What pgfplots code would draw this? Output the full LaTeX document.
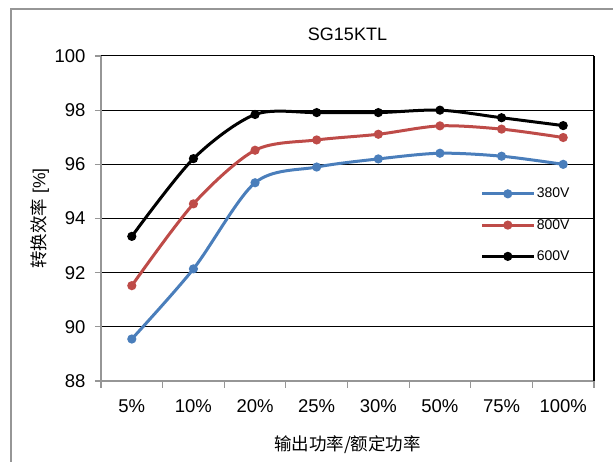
\documentclass[border=0pt]{standalone}
\usepackage{pgfplots}
\pgfplotsset{compat=1.18}
\usepackage{fontspec}
\setmainfont{Liberation Sans}
\newfontfamily\cjk{Noto Sans CJK SC}
\definecolor{sblue}{RGB}{74,126,187}
\definecolor{sred}{RGB}{190,75,72}
\definecolor{fgray}{RGB}{150,150,150}
\begin{document}
\begin{tikzpicture}[x=1pt,y=1pt]
\useasboundingbox (0,0) rectangle (613,462);
\draw[fgray, line width=1.5pt] (11,-2) -- (11,453) -- (615,453);
\begin{axis}[
  at={(101pt,81pt)}, anchor=south west,
  scale only axis, width=493pt, height=325pt,
  xmin=0.5, xmax=8.5, ymin=88, ymax=100,
  xtick={1,...,8},
  xticklabels={5\%,10\%,20\%,25\%,30\%,50\%,75\%,100\%},
  minor xtick={0.5,1.5,...,8.5},
  ytick={90,92,...,100},
  extra y ticks={88},
  extra tick style={grid=none},
  ymajorgrids,
  major grid style={black, line width=1pt},
  axis x line*=bottom, axis y line*=left,
  axis line style={draw=fgray, line width=1.5pt, -},
  tick align=outside,
  major tick length=6pt, minor tick length=7pt,
  tick style={fgray, line width=1.2pt},
  major x tick style={draw=none},
  ticklabel style={font=\fontsize{18.5}{20}\selectfont},
  /pgf/number format/assume math mode=true,
  xticklabel style={yshift=-9pt},
  yticklabel style={xshift=-6pt},
  title={SG15KTL},
  title style={at={(axis description cs:0.5,1.049)}, anchor=center, font=\fontsize{18}{20}\selectfont},
  xlabel={\cjk 输出功率/额定功率},
  xlabel style={at={(axis description cs:0.5,-0.197)}, anchor=center, font=\fontsize{17.5}{19}\selectfont},
  ylabel={{\cjk 转换效率} [\%]},
  ylabel style={at={(axis description cs:-0.124,0.5)}, anchor=center, rotate=0, font=\fontsize{17.5}{19}\selectfont},
  legend style={draw=none, fill=none, at={(rel axis cs:0.77,0.60)}, anchor=north west,
    font=\fontsize{14}{16}\selectfont, row sep=16pt, inner sep=0pt},
  legend cell align=left,
  legend image code/.code={\draw[mark repeat=2, mark phase=2] plot coordinates {(0pt,0pt) (25.5pt,0pt) (51pt,0pt)};},
  every axis plot/.append style={line width=3pt, smooth, tension=0.5, mark=*, mark size=3pt},
  clip=false,
]
\addplot[sblue, mark options={fill=sblue}] coordinates {
 (1,89.55) (2,92.14) (3,95.32) (4,95.9) (5,96.2) (6,96.41) (7,96.3) (8,96.0)};
\addlegendentry{380V}
\addplot[sred, mark options={fill=sred}] coordinates {
 (1,91.52) (2,94.54) (3,96.52) (4,96.9) (5,97.11) (6,97.42) (7,97.3) (8,96.99)};
\addlegendentry{800V}
\addplot[black, mark options={fill=black}] coordinates {
 (1,93.34) (2,96.21) (3,97.84) (4,97.91) (5,97.91) (6,98.0) (7,97.72) (8,97.43)};
\addlegendentry{600V}
\draw[black, line width=1.5pt] (rel axis cs:1,0) -- (rel axis cs:1,1);
\end{axis}
\end{tikzpicture}
\end{document}
